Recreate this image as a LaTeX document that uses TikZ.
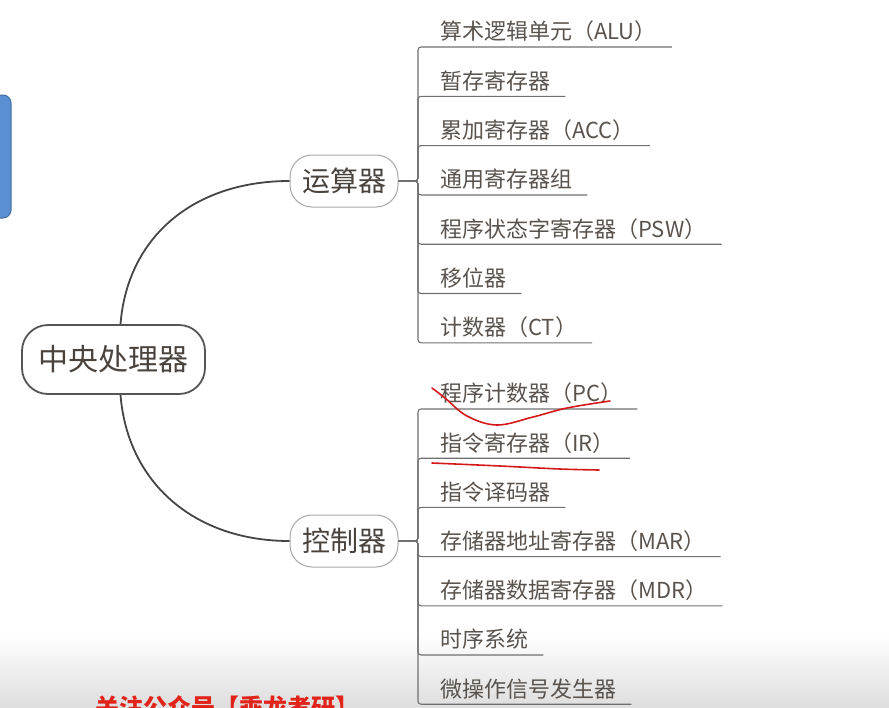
\documentclass[tikz,border=0pt]{standalone}
\usepackage{fontspec}
\setmainfont{Noto Sans CJK SC}
\usetikzlibrary{calc}
\definecolor{leaftxt}{HTML}{5A534D}
\definecolor{midtxt}{HTML}{4A433D}
\definecolor{rootline}{HTML}{555555}
\definecolor{midline}{HTML}{A8A8A8}
\definecolor{brline}{HTML}{707070}
\definecolor{curveline}{HTML}{454545}
\definecolor{blueA}{HTML}{5B8FD2}
\definecolor{blueB}{HTML}{41709F}
\definecolor{wmred}{HTML}{E2231A}
\definecolor{annred}{HTML}{D4191A}
\tikzset{
  rootbox/.style={draw=rootline, line width=1.8pt, fill=white, rounded corners=26pt,
    minimum width=183pt, minimum height=69pt, inner sep=0pt, text=midtxt,
    font=\fontsize{30}{34}\selectfont},
  midbox/.style={draw=midline, line width=1pt, fill=white, rounded corners=22pt,
    minimum width=108pt, minimum height=52pt, inner sep=0pt, text=midtxt,
    font=\fontsize{28}{32}\selectfont},
  leaf/.style={anchor=south west, inner xsep=0pt, inner ysep=2pt, text height=17pt,
    text depth=5pt, text=leaftxt, font=\fontsize{22}{26}\selectfont},
  branch/.style={draw=brline, line width=1.1pt, rounded corners=3pt},
  curve/.style={draw=curveline, line width=1.8pt},
  annot/.style={draw=annred, line width=1.6pt, line cap=round, line join=round},
}
\begin{document}
\begin{tikzpicture}[x=1pt,y=-1pt]
\useasboundingbox (0,0) rectangle (889,707);
\clip (0,0) rectangle (889,707);
% bottom shading of the video overlay
\fill[top color=white, bottom color=black!13] (0,635) rectangle (889,707);
% blue box at left edge
\draw[fill=blueA, draw=blueB, line width=1pt, rounded corners=8pt] (-20,95) rectangle (11,218);

% nodes
\node[rootbox] (cpu) at (113.5,359.5) {中央处理器};
\node[midbox] (alu) at (344,181) {运算器};
\node[midbox] (ctl) at (344,541) {控制器};

\node[leaf] (a1) at (440,47) {算术逻辑单元（ALU）};
\node[leaf] (a2) at (440,96.3) {暂存寄存器};
\node[leaf] (a3) at (440,145.6) {累加寄存器（ACC）};
\node[leaf] (a4) at (440,195) {通用寄存器组};
\node[leaf] (a5) at (440,244.2) {程序状态字寄存器（PSW）};
\node[leaf] (a6) at (440,293.5) {移位器};
\node[leaf] (a7) at (440,342.8) {计数器（CT）};

\node[leaf] (c1) at (440,409) {程序计数器（PC）};
\node[leaf] (c2) at (440,458.2) {指令寄存器（IR）};
\node[leaf] (c3) at (440,507.4) {指令译码器};
\node[leaf] (c4) at (440,556.6) {存储器地址寄存器（MAR）};
\node[leaf] (c5) at (440,605.8) {存储器数据寄存器（MDR）};
\node[leaf] (c6) at (440,655) {时序系统};
\node[leaf] (c7) at (440,704.2) {微操作信号发生器};

% curved connectors from root
\draw[curve] ([xshift=7pt]cpu.north) .. controls ($(cpu.north)+(14,-88)$) and ($(alu.west)+(-95,0)$) .. (alu.west);
\draw[curve] ([xshift=7pt]cpu.south) .. controls ($(cpu.south)+(14,88)$) and ($(ctl.west)+(-95,0)$) .. (ctl.west);

% branches
\foreach \n in {a1,a2,a3,a4,a5,a6,a7}{
  \draw[branch] (alu.east) -| ([xshift=-22pt]\n.south west) -- ([xshift=15pt]\n.south east);
}
\foreach \n in {c1,c2,c3,c4,c5,c6,c7}{
  \draw[branch] (ctl.east) -| ([xshift=-22pt]\n.south west) -- ([xshift=15pt]\n.south east);
}

% hand-drawn red annotations
\draw[annot] plot[smooth, tension=0.6] coordinates {(432,388) (445,398) (467,416) (497,425) (533,417) (567,408) (610,401)};
\draw[annot] plot[smooth, tension=0.6] coordinates {(432,463) (500,466) (560,469) (599,470)};

% watermark text (cut off at the lower edge, as in the reference)
\node[anchor=base west, inner sep=0pt, text=wmred, font=\bfseries\fontsize{24}{24}\selectfont] (wm) at (95,716) {关注公众号【乖龙考研】};
\end{tikzpicture}
\end{document}
